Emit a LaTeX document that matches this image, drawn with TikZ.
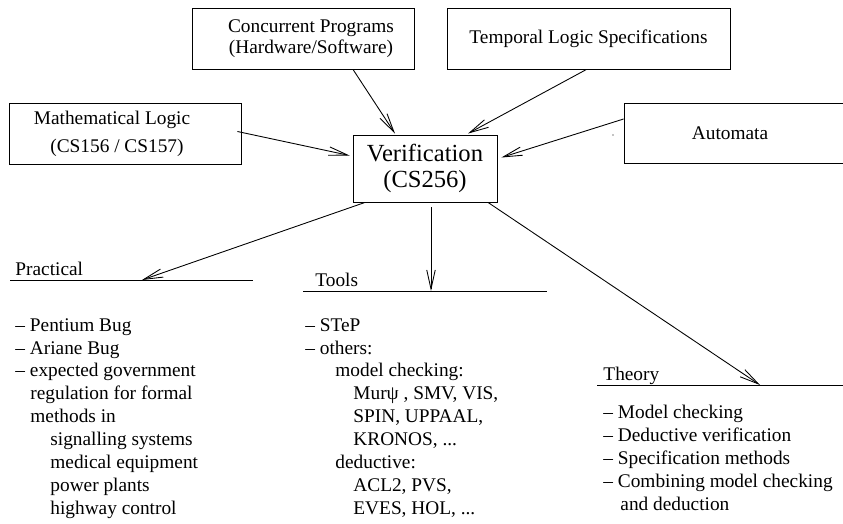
\documentclass[tikz,border=0pt]{standalone}
\usepackage{fontspec}
\setmainfont{Liberation Serif}
\usetikzlibrary{arrows.meta, calc}

\begin{document}
\begin{tikzpicture}[
    x=0.02cm, y=-0.02cm,
    line width=0.5pt,
    >={Straight Barb[length=0.38cm, width=0.17cm]},
    topic/.style={
        draw,
        rectangle,
        inner sep=0pt,
        align=center,
        minimum height=1.22cm,
        font=\fontsize{11}{12}\selectfont
    },
    heading/.style={anchor=base west, inner sep=0pt, font=\fontsize{11}{13}\selectfont},
    itemlist/.style={anchor=base west, inner sep=0pt, align=left, font=\fontsize{11}{13}\selectfont}
]
\useasboundingbox (0,0) rectangle (843,524);

% boxes
\node[topic, minimum width=4.44cm] (conc) at (303,38.5) {\hspace*{0.32cm}Concurrent Programs\\\hspace*{0.32cm}(Hardware/Software)};
\node[topic, minimum width=5.66cm] (temp) at (588.5,38.5) {Temporal Logic Specifications};
\node[topic, minimum width=4.64cm, font=\fontsize{11}{16}\selectfont] (math) at (125,133.5) {Mathematical Logic\hspace*{0.52cm}\\(CS156 / CS157)\hspace*{0.32cm}};
\node[topic, minimum width=4.48cm, minimum height=1.2cm] (auto) at (736,133) {Automata\hspace*{0.24cm}};
\node[topic, minimum width=2.88cm, minimum height=1.34cm, font=\fontsize{14}{15}\selectfont] (ver) at (425,168.5) {Verification\\(CS256)};
\fill (613,135) circle (0.012cm);

% headings
\node[heading] (prac) at (15,275) {Practical};
\node[heading] (tools) at (315,286) {Tools};
\node[heading] (theo) at (603,380) {Theory};
\coordinate (prac-l) at (10,280);
\coordinate (prac-r) at (253,280);
\coordinate (tools-l) at (303,291);
\coordinate (tools-r) at (547,291);
\coordinate (theo-l) at (597,385);
\coordinate (theo-r) at (843,385);
\draw (prac-l) -- (prac-r);
\draw (tools-l) -- (tools-r);
\draw (theo-l) -- (theo-r);
\coordinate (prac-tip) at (142,280);
\coordinate (tools-tip) at (431,291);
\coordinate (theo-tip) at (760,385);

% lists (placed at the baseline of their last line)
\node[itemlist] (praclist) at (15,514) {--\ Pentium Bug\\--\ Ariane Bug\\--\ expected government\\
    \hspace*{0.3cm}regulation for formal\\\hspace*{0.3cm}methods in\\
    \hspace*{0.7cm}signalling systems\\\hspace*{0.7cm}medical equipment\\
    \hspace*{0.7cm}power plants\\\hspace*{0.7cm}highway control};
\node[itemlist] (toollist) at (305,514) {--\ STeP\\--\ others:\\
    \hspace*{0.6cm}model checking:\\\hspace*{0.96cm}Murψ , SMV, VIS,\\
    \hspace*{0.96cm}SPIN, UPPAAL,\\\hspace*{0.96cm}KRONOS, ...\\
    \hspace*{0.6cm}deductive:\\\hspace*{0.96cm}ACL2, PVS,\\\hspace*{0.96cm}EVES, HOL, ...};
\node[itemlist] (theolist) at (603,510) {--\ Model checking\\--\ Deductive verification\\
    --\ Specification methods\\--\ Combining model checking\\\hspace*{0.34cm}and deduction};

% arrows in
\draw[->] ($(conc.south)+(50,0)$) -- ($(ver.north)+(-30,-1)$);
\draw[->] ($(math.east)+(-4,-2)$) -- ($(ver.west)+(-3,-13)$);
\draw[->] ($(temp.south)+(-2,0)$) -- ($(ver.north)+(43,-1)$);
\draw[->] ($(auto.west)+(0,-14)$) -- ($(ver.east)+(4,-11)$);

% arrows out
\draw[->] ($(ver.south)+(-60,0)$) -- (prac-tip);
\draw[->] ($(ver.south)+(6,5)$) -- (tools-tip);
\draw[->] ($(ver.south)+(63,0)$) -- (theo-tip);

\end{tikzpicture}
\end{document}
